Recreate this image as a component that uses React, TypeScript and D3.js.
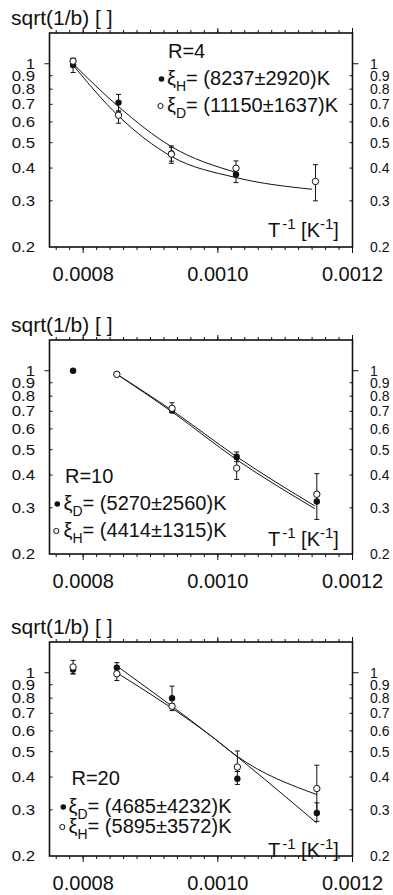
import React from 'react';
import * as d3 from 'd3';

// x range and tick labels (shared by all three panels)
const xDomain = [0.00075, 0.0012];
const xMajor = [0.0008, 0.001, 0.0012];
const xMajorLabels = ['0.0008', '0.0010', '0.0012'];
const yDomain = [0.2, 1.31];
const yTicks = [0.2, 0.3, 0.4, 0.5, 0.6, 0.7, 0.8, 0.9, 1];
const yTickLabels = ['0.2', '0.3', '0.4', '0.5', '0.6', '0.7', '0.8', '0.9', '1'];

// R=4
const r4FilledX = [0.000785, 0.0008525, 0.000931, 0.001027];
const r4FilledY = [0.988, 0.711, 0.455, 0.378];
const r4FilledErr = [[0.926, 1.047], [0.66, 0.764], [0.417, 0.486], [0.352, 0.4]];
const r4OpenX = [0.000785, 0.0008525, 0.000931, 0.001027, 0.001145];
const r4OpenY = [1.023, 0.636, 0.452, 0.3995, 0.3556];
const r4OpenErr = [[1.0, 1.05], [0.593, 0.66], [0.425, 0.48], [0.375, 0.426], [0.3, 0.412]];
const r4FitAX = [0.000785, 0.0008525, 0.000931, 0.001027];
const r4FitAY = [1.0, 0.686, 0.483, 0.385];
const r4FitBX = [0.000785, 0.0008525, 0.000931, 0.001027, 0.00114];
const r4FitBY = [0.988, 0.632, 0.443, 0.368, 0.332];

// R=10
const r10FilledX = [0.000785, 0.00085, 0.000932, 0.001028, 0.001147];
const r10FilledY = [1.0, 0.97, 0.705, 0.47, 0.317];
const r10FilledErr = [null, null, null, [0.45, 0.49], [0.271, 0.405]];
const r10OpenX = [0.00085, 0.000932, 0.001028, 0.001147];
const r10OpenY = [0.969, 0.719, 0.425, 0.338];
const r10OpenErr = [null, [0.692, 0.755], [0.385, 0.459], null];
const r10FitAX = [0.00085, 0.000932, 0.001028, 0.001144];
const r10FitAY = [0.97, 0.706, 0.47, 0.305];
const r10FitBX = [0.00085, 0.000932, 0.001028, 0.001144];
const r10FitBY = [0.97, 0.697, 0.458, 0.298];

// R=20
const r20FilledX = [0.000785, 0.00085, 0.000932, 0.001029, 0.001147];
const r20FilledY = [1.03, 1.045, 0.8, 0.394, 0.2917];
const r20FilledErr = [[0.99, 1.06], [1.0, 1.093], [0.76, 0.889], [0.375, 0.42], [0.271, 0.319]];
const r20OpenX = [0.000785, 0.00085, 0.000932, 0.001029, 0.001147];
const r20OpenY = [1.052, 0.991, 0.745, 0.437, 0.3617];
const r20OpenErr = [[0.99, 1.115], [0.934, 1.0], [0.717, 0.76], [0.42, 0.503], [0.292, 0.444]];
const r20FitAX = [0.00085, 0.000993, 0.001147];
const r20FitAY = [1.061, 0.566, 0.267];
const r20FitBX = [0.00085, 0.000993, 0.001028, 0.001147];
const r20FitBY = [1.0, 0.566, 0.4816, 0.343];

const panels = [
  {
    top: 33, rLabel: 'R=4', unitDy: -10,
    legendPos: { rx: 168, ry: 25, bx: 161.5, tx: 167, l1: 52, l2: 79 },
    filledSub: 'H', filledText: '(8237±2920)K', openSub: 'D', openText: '(11150±1637)K',
    filledX: r4FilledX, filledY: r4FilledY, filledErr: r4FilledErr,
    openX: r4OpenX, openY: r4OpenY, openErr: r4OpenErr,
    fits: [[r4FitAX, r4FitAY], [r4FitBX, r4FitBY]],
  },
  {
    top: 340, rLabel: 'R=10', unitDy: -8,
    legendPos: { rx: 65, ry: 143, bx: 57.3, tx: 63.5, l1: 170, l2: 197 },
    filledSub: 'D', filledText: '(5270±2560)K', openSub: 'H', openText: '(4414±1315)K',
    filledX: r10FilledX, filledY: r10FilledY, filledErr: r10FilledErr,
    openX: r10OpenX, openY: r10OpenY, openErr: r10OpenErr,
    fits: [[r10FitAX, r10FitAY], [r10FitBX, r10FitBY]],
  },
  {
    top: 642, rLabel: 'R=20', unitDy: 1,
    legendPos: { rx: 71.5, ry: 143, bx: 63.3, tx: 68.5, l1: 171, l2: 191 },
    filledSub: 'D', filledText: '(4685±4232)K', openSub: 'H', openText: '(5895±3572)K',
    filledX: r20FilledX, filledY: r20FilledY, filledErr: r20FilledErr,
    openX: r20OpenX, openY: r20OpenY, openErr: r20OpenErr,
    fits: [[r20FitAX, r20FitAY], [r20FitBX, r20FitBY]],
  },
];

const LEFT = 49.5;
const RIGHT = 352.5;
const PH = 214;
const FONT = '"Liberation Sans", Arial, sans-serif';
const INK = '#111';

const x = d3.scaleLinear().domain(xDomain).range([LEFT, RIGHT]);
const xMinor = d3.range(0.00076, 0.0012001, 0.00002);

const ErrBars = ({ xs, errs, y }) => (
  <g stroke={INK} strokeWidth={1}>
    {xs.map((v, i) => {
      const e = errs[i];
      if (!e) return null;
      const cx = x(v);
      return (
        <g key={i}>
          <line x1={cx} x2={cx} y1={y(e[0])} y2={y(e[1])} />
          <line x1={cx - 2.5} x2={cx + 2.5} y1={y(e[0])} y2={y(e[0])} />
          <line x1={cx - 2.5} x2={cx + 2.5} y1={y(e[1])} y2={y(e[1])} />
        </g>
      );
    })}
  </g>
);

const Panel = ({ p }) => {
  const bottom = p.top + PH;
  const y = d3.scaleLog().domain(yDomain).range([bottom, p.top]);
  const line = d3.line().curve(d3.curveMonotoneX);
  const lp = p.legendPos;
  return (
    <g fontFamily={FONT} fill={INK}>
      <text x={11} y={p.top - 8} fontSize={21}>sqrt(1/b) [ ]</text>

      {/* fits */}
      {p.fits.map(([fx, fy], i) => (
        <path key={i} d={line(fx.map((v, j) => [x(v), y(fy[j])]))}
          fill="none" stroke={INK} strokeWidth={1} />
      ))}

      <ErrBars xs={p.filledX} errs={p.filledErr} y={y} />
      <ErrBars xs={p.openX} errs={p.openErr} y={y} />
      {p.filledX.map((v, i) => (
        <circle key={'f' + i} cx={x(v)} cy={y(p.filledY[i])} r={3.2} fill={INK} />
      ))}
      {p.openX.map((v, i) => (
        <circle key={'o' + i} cx={x(v)} cy={y(p.openY[i])} r={3.2} fill="#fff" stroke={INK} strokeWidth={1} />
      ))}

      {/* frame */}
      <rect x={LEFT} y={p.top} width={RIGHT - LEFT} height={PH} fill="none" stroke={INK} strokeWidth={1.6} />

      {/* x ticks, bottom and top, outward */}
      <g stroke={INK} strokeWidth={1}>
        {xMinor.map((v, i) => (
          <g key={i}>
            <line x1={x(v)} x2={x(v)} y1={bottom} y2={bottom + 3} />
            <line x1={x(v)} x2={x(v)} y1={p.top} y2={p.top - 3} />
          </g>
        ))}
        {xMajor.map((v, i) => (
          <g key={i}>
            <line x1={x(v)} x2={x(v)} y1={bottom} y2={bottom + 6} />
            <line x1={x(v)} x2={x(v)} y1={p.top} y2={p.top - 5} />
          </g>
        ))}
      </g>
      {xMajor.map((v, i) => (
        <text key={i} x={x(v)} y={bottom + 34} fontSize={20} textAnchor="middle">{xMajorLabels[i]}</text>
      ))}

      {/* y ticks, left and right */}
      <g stroke={INK} strokeWidth={1}>
        {yTicks.map((v, i) => {
          if (v === 0.2) return null;
          const out = v === 1;
          return (
            <g key={i}>
              <line x1={LEFT} x2={out ? LEFT - 5 : LEFT + 3} y1={y(v)} y2={y(v)} />
              <line x1={RIGHT} x2={out ? RIGHT + 6 : RIGHT - 3} y1={y(v)} y2={y(v)} />
            </g>
          );
        })}
      </g>
      {yTicks.map((v, i) => (
        <g key={i}>
          <text transform={`translate(35,${y(v)}) scale(1.2,1)`} dy="0.36em" fontSize={14} textAnchor="end">{yTickLabels[i]}</text>
          <text x={370} y={y(v)} dy="0.36em" fontSize={14}>{yTickLabels[i]}</text>
        </g>
      ))}

      {/* unit label */}
      <text x={268} y={bottom + p.unitDy} fontSize={20}>
        T<tspan fontSize={15} dy={-8} dx={2}>-1</tspan>
        <tspan dy={8}> [K</tspan>
        <tspan fontSize={15} dy={-8}>-1</tspan>
        <tspan dy={8}>]</tspan>
      </text>

      {/* legend */}
      <text x={lp.rx} y={p.top + lp.ry} fontSize={20}>{p.rLabel}</text>
      <circle cx={lp.bx} cy={p.top + lp.l1 - 6} r={2.8} fill={INK} />
      <text x={lp.tx} y={p.top + lp.l1} fontSize={20}>
        ξ<tspan fontSize={14} dy={6}>{p.filledSub}</tspan>
        <tspan dy={-6}>= {p.filledText}</tspan>
      </text>
      <circle cx={lp.bx - 1} cy={p.top + lp.l2 - 6} r={2.6} fill="#fff" stroke={INK} strokeWidth={1} />
      <text x={lp.tx} y={p.top + lp.l2} fontSize={20}>
        ξ<tspan fontSize={14} dy={6}>{p.openSub}</tspan>
        <tspan dy={-6}>= {p.openText}</tspan>
      </text>
    </g>
  );
};

export default function App() {
  return (
    <svg width={393} height={895} style={{ position: 'absolute', left: 0, top: 0, background: '#fff' }}>
      <rect width={393} height={895} fill="#fff" />
      {panels.map((p, i) => <Panel key={i} p={p} />)}
    </svg>
  );
}
